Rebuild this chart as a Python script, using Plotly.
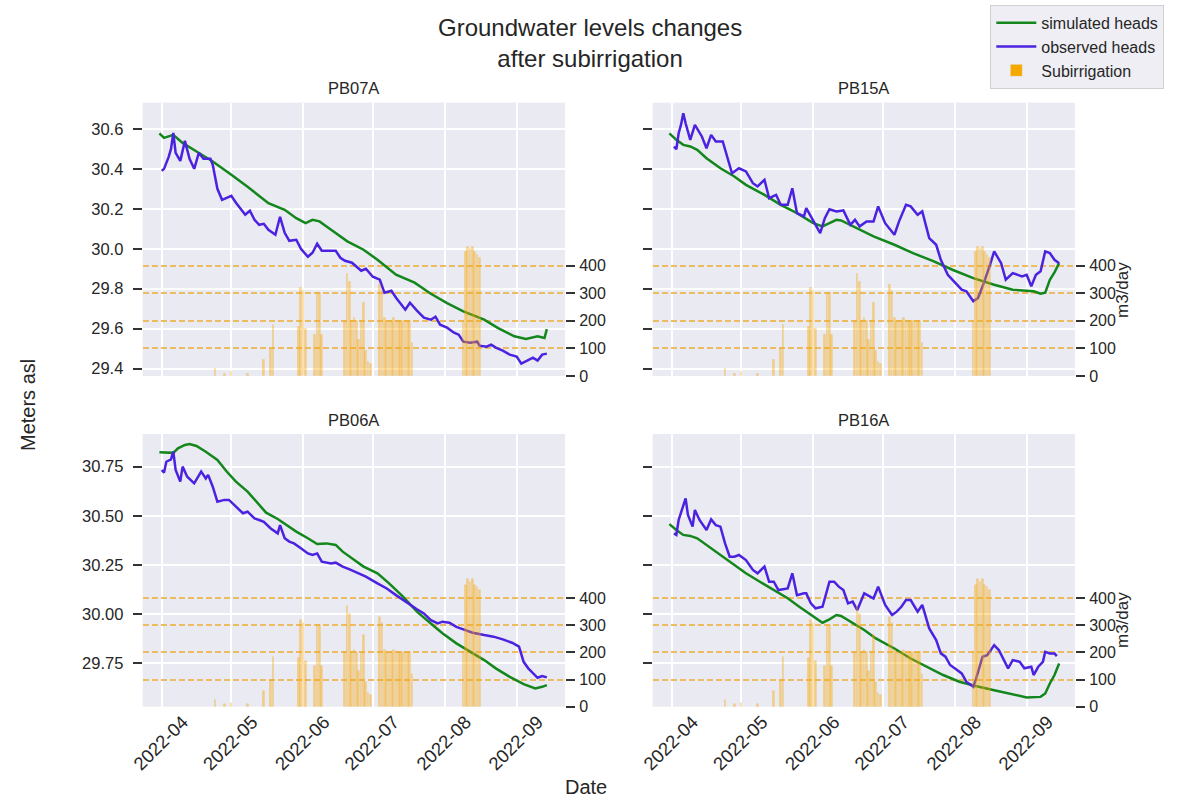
import plotly.graph_objects as go
import pandas as pd

# ---------------- data (days counted from 2022-04-01) ----------------
START = "2022-04-01"

PB07A_sim_day = [-1, 1, 5, 9, 15, 22, 30, 37, 46, 53, 58, 62, 65, 68, 73, 80, 87, 93, 101, 109,
                 116, 123, 130, 139, 145, 152, 157, 162, 165, 166]
PB07A_sim = [30.578, 30.555, 30.570, 30.530, 30.487, 30.437, 30.370, 30.310, 30.228, 30.195,
             30.153, 30.128, 30.145, 30.137, 30.095, 30.037, 29.995, 29.945, 29.870, 29.830,
             29.775, 29.728, 29.687, 29.645, 29.603, 29.562, 29.548, 29.562, 29.553, 29.598]
PB07A_obs_day = [0, 1, 3, 4, 5, 6, 8, 10, 12, 14, 16, 18, 21, 22, 24, 26, 28, 30, 32, 36,
                 38, 40, 42, 44, 46, 49, 51, 53, 55, 58, 60, 63, 65, 67, 69, 73, 75, 77, 79, 82,
                 86, 88, 91, 94, 96, 99, 101, 105, 107, 110, 113, 116, 118, 120, 123, 126, 128, 130, 133, 136,
                 137, 140, 142, 144, 147, 150, 153, 155, 158, 160, 162, 164, 166]
PB07A_obs = [30.39, 30.40, 30.46, 30.50, 30.58, 30.48, 30.44, 30.54, 30.45, 30.40,
             30.48, 30.45, 30.45, 30.42, 30.30, 30.245, 30.255, 30.265, 30.23, 30.17,
             30.19, 30.145, 30.12, 30.125, 30.095, 30.07, 30.16, 30.08, 30.04, 30.045,
             30.00, 29.96, 29.98, 30.025, 29.99, 29.99, 29.99, 29.955, 29.94, 29.93,
             29.89, 29.90, 29.86, 29.845, 29.78, 29.79, 29.755, 29.695, 29.73, 29.69,
             29.655, 29.645, 29.66, 29.62, 29.605, 29.58, 29.57, 29.535, 29.53, 29.535,
             29.515, 29.51, 29.52, 29.505, 29.49, 29.47, 29.46, 29.425, 29.445, 29.455,
             29.44, 29.47, 29.475]

PB15A_sim_day = [-1, 2, 5, 8, 11, 15, 21, 27, 32, 40, 47, 54, 61, 65, 68, 71, 73, 78, 87, 96,
                 104, 113, 121, 130, 139, 147, 156, 159, 161, 163, 165, 167]
PB15A_sim = [30.578, 30.545, 30.52, 30.512, 30.495, 30.453, 30.403, 30.362, 30.32, 30.27,
             30.22, 30.178, 30.128, 30.112, 30.128, 30.145, 30.142, 30.112, 30.062, 30.02,
             29.978, 29.937, 29.895, 29.853, 29.82, 29.795, 29.787, 29.775, 29.78, 29.845,
             29.882, 29.928]
PB15A_obs_day = [1, 2, 3, 4, 5, 6, 8, 10, 13, 15, 17, 19, 22, 24, 26, 29, 32, 35, 37, 40,
                 42, 45, 47, 50, 52, 54, 57, 58, 61, 64, 66, 68, 71, 74, 77, 79, 81, 84, 87, 89,
                 92, 96, 98, 101, 103, 106, 108, 111, 114, 116, 119, 123, 125, 127, 130, 132, 134, 137, 139, 142,
                 144, 147, 149, 151, 153, 155, 157, 159, 161, 163, 165, 167]
PB15A_obs = [30.512, 30.498, 30.578, 30.62, 30.678, 30.628, 30.545, 30.62, 30.562, 30.503,
             30.57, 30.537, 30.537, 30.462, 30.378, 30.403, 30.387, 30.328, 30.312, 30.345,
             30.253, 30.27, 30.22, 30.22, 30.303, 30.178, 30.162, 30.203, 30.137, 30.078,
             30.153, 30.198, 30.187, 30.192, 30.12, 30.145, 30.112, 30.137, 30.137, 30.212,
             30.128, 30.07, 30.137, 30.22, 30.212, 30.17, 30.187, 30.053, 30.02, 29.945,
             29.87, 29.82, 29.795, 29.787, 29.737, 29.753, 29.812, 29.912, 29.987, 29.928,
             29.845, 29.878, 29.87, 29.862, 29.87, 29.812, 29.87, 29.887, 29.987, 29.978,
             29.945, 29.928]

PB06A_sim_day = [-1, 2, 5, 7, 10, 12, 15, 19, 24, 28, 32, 37, 41, 45, 50, 54, 58, 63, 67, 71,
                 75, 78, 83, 87, 93, 98, 104, 110, 116, 121, 127, 133, 139, 144, 150, 156, 159, 161, 164, 166]
PB06A_sim = [30.823, 30.821, 30.82, 30.843, 30.86, 30.865, 30.855, 30.826, 30.784, 30.725,
             30.674, 30.623, 30.572, 30.516, 30.484, 30.453, 30.42, 30.386, 30.357, 30.36,
             30.352, 30.318, 30.275, 30.242, 30.208, 30.157, 30.089, 30.013, 29.953, 29.903,
             29.852, 29.81, 29.767, 29.725, 29.682, 29.645, 29.631, 29.623, 29.631, 29.64]
PB06A_obs_day = [0, 1, 2, 4, 5, 6, 8, 9, 11, 14, 17, 19, 20, 22, 24, 27, 29, 32, 35, 37,
                 40, 42, 44, 47, 50, 51, 53, 55, 57, 60, 63, 65, 67, 69, 73, 75, 78, 81, 85, 88,
                 93, 97, 101, 106, 110, 113, 116, 119, 121, 124, 127, 130, 134, 139, 143, 147, 151, 154, 156, 158,
                 160, 162, 164, 166]
PB06A_obs = [30.733, 30.72, 30.775, 30.787, 30.826, 30.733, 30.674, 30.75, 30.699, 30.665,
             30.725, 30.69, 30.708, 30.648, 30.572, 30.581, 30.581, 30.547, 30.513, 30.521,
             30.487, 30.479, 30.47, 30.436, 30.411, 30.453, 30.386, 30.369, 30.36, 30.335,
             30.309, 30.301, 30.309, 30.267, 30.258, 30.262, 30.242, 30.228, 30.208, 30.191,
             30.157, 30.131, 30.097, 30.055, 30.025, 30.004, 29.97, 29.953, 29.962, 29.957,
             29.936, 29.923, 29.906, 29.894, 29.886, 29.872, 29.855, 29.835, 29.758, 29.725,
             29.699, 29.677, 29.686, 29.679]

PB16A_sim_day = [-1, 2, 5, 8, 11, 15, 21, 27, 32, 38, 44, 50, 55, 61, 65, 68, 71, 73, 77, 83,
                 88, 96, 103, 110, 117, 124, 131, 139, 146, 153, 159, 161, 163, 165, 167]
PB16A_sim = [30.458, 30.428, 30.403, 30.398, 30.386, 30.352, 30.301, 30.25, 30.208, 30.165,
             30.123, 30.081, 30.038, 29.987, 29.957, 29.974, 29.996, 29.991, 29.962, 29.92,
             29.877, 29.826, 29.775, 29.733, 29.691, 29.657, 29.635, 29.614, 29.594, 29.577,
             29.58, 29.597, 29.648, 29.691, 29.75]
PB16A_obs_day = [1, 2, 3, 4, 6, 7, 9, 10, 12, 15, 17, 19, 21, 23, 25, 27, 29, 32, 35, 37,
                 40, 42, 44, 46, 50, 52, 54, 57, 58, 60, 62, 65, 68, 70, 72, 74, 76, 78, 80, 83,
                 86, 87, 89, 92, 95, 97, 99, 101, 103, 106, 108, 111, 114, 116, 118, 120, 123, 125, 127, 130,
                 131, 134, 136, 139, 141, 143, 145, 147, 150, 152, 155, 156, 158, 160, 161, 163, 165, 166]
PB16A_obs = [30.411, 30.403, 30.479, 30.513, 30.589, 30.504, 30.445, 30.53, 30.479, 30.428,
             30.482, 30.453, 30.445, 30.36, 30.292, 30.292, 30.301, 30.275, 30.225, 30.208,
             30.242, 30.165, 30.165, 30.123, 30.131, 30.208, 30.097, 30.106, 30.106, 30.055,
             30.03, 30.038, 30.165, 30.165, 30.14, 30.123, 30.055, 30.064, 30.021, 30.106,
             30.089, 30.08, 30.14, 30.047, 29.996, 30.013, 30.038, 30.072, 30.072, 30.013,
             30.047, 29.928, 29.869, 29.801, 29.784, 29.742, 29.717, 29.699, 29.657, 29.631,
             29.665, 29.784, 29.792, 29.843, 29.818, 29.775, 29.725, 29.767, 29.758, 29.725,
             29.733, 29.691, 29.733, 29.758, 29.809, 29.801, 29.801, 29.787]

# subirrigation (m3/day), days from 2022-04-01
IRR_day = [23, 27, 30, 37, 44, 47, 48,
           59, 60, 61, 62, 66, 67, 68, 69,
           79, 80, 81, 82, 83, 84, 85, 86, 87, 88, 89, 90,
           94, 95, 96, 97, 98, 99, 100, 101, 102, 103, 104, 105, 106, 107, 108,
           130, 131, 132, 133, 134, 135, 136, 137]
IRR_val = [25, 10, 15, 10, 58, 100, 185,
           180, 320, 310, 170, 150, 300, 300, 150,
           200, 370, 340, 200, 210, 200, 130, 200, 265, 90, 50, 45,
           330, 310, 210, 200, 200, 200, 210, 200, 200, 200, 200, 200, 200, 200, 120,
           200, 450, 470, 460, 470, 450, 440, 430]

PANELS = ["PB07A", "PB15A", "PB06A", "PB16A"]
SERIES = {
    "PB07A": (PB07A_sim_day, PB07A_sim, PB07A_obs_day, PB07A_obs),
    "PB15A": (PB15A_sim_day, PB15A_sim, PB15A_obs_day, PB15A_obs),
    "PB06A": (PB06A_sim_day, PB06A_sim, PB06A_obs_day, PB06A_obs),
    "PB16A": (PB16A_sim_day, PB16A_sim, PB16A_obs_day, PB16A_obs),
}
MONTH_TICKS = ["2022-04-01", "2022-05-01", "2022-06-01", "2022-07-01", "2022-08-01", "2022-09-01"]
MONTH_LABELS = ["2022-04", "2022-05", "2022-06", "2022-07", "2022-08", "2022-09"]
TOP_TICKS = [29.4, 29.6, 29.8, 30.0, 30.2, 30.4, 30.6]
BOT_TICKS = [29.75, 30.00, 30.25, 30.50, 30.75]
RIGHT_TICKS = [0, 100, 200, 300, 400]

# ---------------- styling ----------------
t0 = pd.Timestamp(START)
def dates(days):
    return [t0 + pd.Timedelta(days=d) for d in days]

GREEN = "#13861c"
BLUE = "#4b22e0"
BAR = "rgba(255,170,0,0.45)"
TXT = "#262626"
BG = "#EAEAF2"
FONT = "Liberation Sans, Arial, sans-serif"

XL = [0.1203, 0.4764]
XR = [0.5503, 0.9064]
YT = [0.5329, 0.8724]
YB = [0.1221, 0.4609]
XRANGE = ["2022-03-23 19:00", "2022-09-21 20:00"]

fig = go.Figure()

axes = [  # (xaxis, yaxis, right-axis)
    ("x", "y", "y5"),
    ("x2", "y2", "y6"),
    ("x3", "y3", "y7"),
    ("x4", "y4", "y8"),
]

for i, name in enumerate(PANELS):
    sd, sv, od, ov = SERIES[name]
    xa, ya, y2a = axes[i]
    fig.add_trace(go.Scatter(x=dates(sd), y=sv, mode="lines", name="simulated heads",
                             line=dict(color=GREEN, width=2.5), xaxis=xa, yaxis=ya,
                             showlegend=(i == 0), legendrank=1))
    fig.add_trace(go.Scatter(x=dates(od), y=ov, mode="lines", name="observed heads",
                             line=dict(color=BLUE, width=2.5), xaxis=xa, yaxis=ya,
                             showlegend=(i == 0), legendrank=2))
for i, name in enumerate(PANELS):
    xa, ya, y2a = axes[i]
    fig.add_trace(go.Bar(x=dates(IRR_day), y=IRR_val, width=0.72 * 86400000,
                         marker=dict(color=BAR, line=dict(color="rgba(230,160,30,0.35)", width=0.5)),
                         xaxis=xa, yaxis=y2a, showlegend=False, name="Subirrigation"))
# legend swatch for subirrigation (solid colour, no data drawn)
fig.add_trace(go.Bar(x=[None], y=[None], name="Subirrigation", marker=dict(color="#f5a800"),
                     xaxis="x", yaxis="y5", showlegend=True, legendrank=3))

layout = dict(
    width=1186, height=805,
    margin=dict(l=0, r=0, t=0, b=0),
    paper_bgcolor="white", plot_bgcolor=BG,
    font=dict(family=FONT, color=TXT, size=16),
    barmode="overlay", bargap=0,
    showlegend=True,
    legend=dict(x=0.835, y=0.994, xanchor="left", yanchor="top",
                bgcolor="rgba(236,236,243,0.9)", bordercolor="#d0d0d0", borderwidth=1,
                font=dict(size=16, color=TXT), tracegroupgap=0, itemwidth=40),
)

def xaxis_cfg(domain, anchor, labels):
    return dict(domain=domain, anchor=anchor, type="date", range=XRANGE,
                tickvals=MONTH_TICKS, ticktext=MONTH_LABELS, showticklabels=labels,
                tickangle=-45, tickfont=dict(size=18.5, color=TXT), ticklabelshift=21,
                ticklabelstandoff=0,
                showgrid=True, gridcolor="white", gridwidth=1.6, zeroline=False,
                showline=False, ticks="", automargin=False)

def yaxis_cfg(domain, anchor, rng, tv, fmt, labels):
    return dict(domain=domain, anchor=anchor, range=rng, tickvals=tv,
                ticktext=[fmt % v for v in tv], showticklabels=labels,
                tickfont=dict(size=16.5, color=TXT), ticklabelstandoff=6,
                ticks="outside", ticklen=9, tickwidth=1.8, tickcolor="#333333",
                showgrid=True, gridcolor="white", gridwidth=1.6, zeroline=False,
                showline=False, automargin=False)

def y2_cfg(over, anchor, top):
    return dict(overlaying=over, anchor=anchor, side="right", range=[0, top],
                tickvals=RIGHT_TICKS, ticktext=[str(v) for v in RIGHT_TICKS],
                tickfont=dict(size=16, color=TXT), ticklabelstandoff=1,
                ticks="outside", ticklen=9, tickwidth=1.8, tickcolor="#333333",
                showgrid=True, gridcolor="#ecbb62", gridwidth=1.5,
                griddash="6px,3px",
                zeroline=False, showline=False, automargin=False)

layout.update(
    xaxis=xaxis_cfg(XL, "y", False),
    xaxis2=xaxis_cfg(XR, "y2", False),
    xaxis3=xaxis_cfg(XL, "y3", True),
    xaxis4=xaxis_cfg(XR, "y4", True),
    yaxis=yaxis_cfg(YT, "x", [29.363, 30.731], TOP_TICKS, "%.1f", True),
    yaxis2=yaxis_cfg(YT, "x2", [29.363, 30.731], TOP_TICKS, "%.1f", False),
    yaxis3=yaxis_cfg(YB, "x3", [29.530, 30.916], BOT_TICKS, "%.2f", True),
    yaxis4=yaxis_cfg(YB, "x4", [29.530, 30.916], BOT_TICKS, "%.2f", False),
    yaxis5=y2_cfg("y", "x", 990),
    yaxis6=y2_cfg("y2", "x2", 990),
    yaxis7=y2_cfg("y3", "x3", 1005),
    yaxis8=y2_cfg("y4", "x4", 1005),
)
fig.update_layout(**layout)

ann = []
ann.append(dict(text="Groundwater levels changes<br>after subirrigation", x=590 / 1186, y=1 - 43 / 805,
                xref="paper", yref="paper", showarrow=False, xanchor="center", yanchor="middle",
                font=dict(size=24, color=TXT)))
for name, xd, ytop in [("PB07A", XL, 88), ("PB15A", XR, 88), ("PB06A", XL, 420), ("PB16A", XR, 420)]:
    ann.append(dict(text=name, x=(xd[0] + xd[1]) / 2, y=1 - ytop / 805, xref="paper", yref="paper",
                    showarrow=False, xanchor="center", yanchor="middle", font=dict(size=16.5, color=TXT)))
ann.append(dict(text="Meters asl", x=28 / 1186, y=1 - 405 / 805, xref="paper", yref="paper",
                showarrow=False, textangle=-90, xanchor="center", yanchor="middle",
                font=dict(size=20, color=TXT)))
ann.append(dict(text="Date", x=586 / 1186, y=1 - 787 / 805, xref="paper", yref="paper",
                showarrow=False, xanchor="center", yanchor="middle", font=dict(size=20, color=TXT)))
for yc in (290, 620):
    ann.append(dict(text="m3/day", x=1122 / 1186, y=1 - yc / 805, xref="paper", yref="paper",
                    showarrow=False, textangle=-90, xanchor="center", yanchor="middle",
                    font=dict(size=17, color=TXT)))
fig.update_layout(annotations=ann)

fig.write_html("out.html")
